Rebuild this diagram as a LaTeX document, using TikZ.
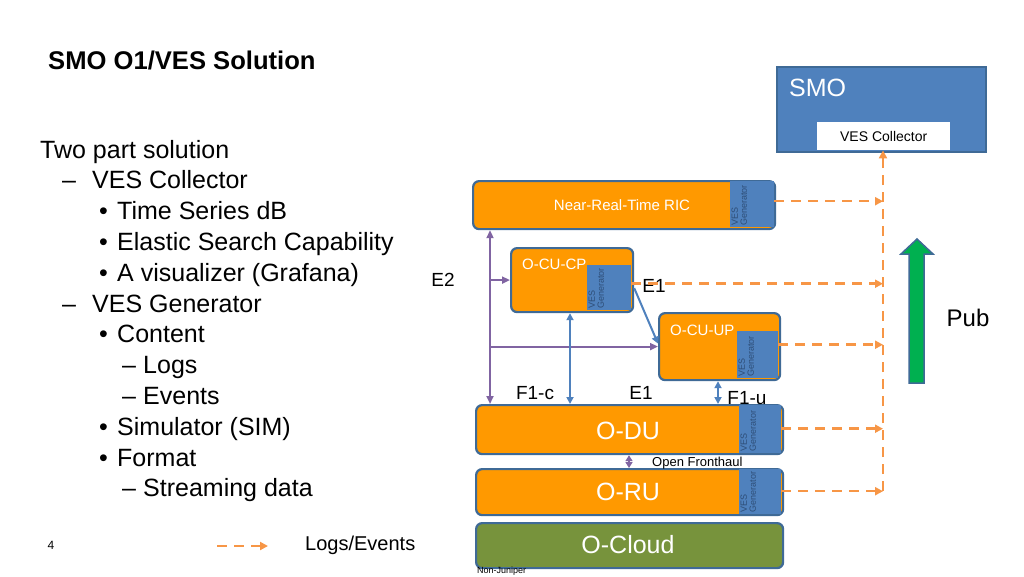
\documentclass[tikz,border=0pt]{standalone}
\usepackage{fontspec}
\setmainfont{Liberation Sans}
\usetikzlibrary{arrows.meta}
\definecolor{orng}{HTML}{FF9900}
\definecolor{bord}{HTML}{3F6A96}
\definecolor{vesb}{HTML}{4F81BD}
\definecolor{purp}{HTML}{8064A2}
\definecolor{dorng}{HTML}{F79646}
\definecolor{ocloud}{HTML}{77933C}
\definecolor{pubg}{HTML}{00B050}
\definecolor{gtext}{HTML}{2E4E78}
\newcommand{\fs}[1]{\fontsize{#1}{#1}\selectfont}
\begin{document}
\begin{tikzpicture}[x=1pt,y=-1pt,
  box/.style={draw=bord, line width=2.2pt, rounded corners=6pt, fill=orng, text=white, anchor=north west, inner sep=0pt},
  gen/.style={fill=vesb, draw=none, anchor=north west, inner sep=0pt},
  gentext/.style={rotate=90, anchor=north west, font=\fs{9}, text=gtext, align=left, inner sep=1.5pt},
  logarrow/.style={draw=dorng, line width=2.5pt, dash pattern=on 10pt off 7pt, -{Triangle[length=8pt,width=8pt]}},
  purpline/.style={draw=purp, line width=2pt},
  blueline/.style={draw=vesb, line width=2pt},
  lbl/.style={font=\fs{19}, inner sep=0pt},
  txt/.style={anchor=base west, inner sep=0pt, font=\fs{25}},
]
\useasboundingbox (0,0) rectangle (1024,576);

% title
\node[anchor=base west, inner sep=0pt, font=\bfseries\fs{25.6}] (title) at (48,69) {SMO O1/VES Solution};

% left text
\node[txt] (t0) at (40,158) {Two part solution};
\node[txt] (d1) at (62,188.8) {–};  \node[txt] (t1) at (92,188.8) {VES Collector};
\node[txt] (b2) at (99,219.6) {•};  \node[txt] (t2) at (117,219.6) {Time Series dB};
\node[txt] (b3) at (99,250.4) {•};  \node[txt] (t3) at (117,250.4) {Elastic Search Capability};
\node[txt] (b4) at (99,281.2) {•};  \node[txt] (t4) at (117,281.2) {A visualizer (Grafana)};
\node[txt] (d5) at (62,312) {–};    \node[txt] (t5) at (92,312) {VES Generator};
\node[txt] (b6) at (99,342.8) {•};  \node[txt] (t6) at (117,342.8) {Content};
\node[txt] (d7) at (122,373.6) {–}; \node[txt] (t7) at (143,373.6) {Logs};
\node[txt] (d8) at (122,404.4) {–}; \node[txt] (t8) at (143,404.4) {Events};
\node[txt] (b9) at (99,435.2) {•};  \node[txt] (t9) at (117,435.2) {Simulator (SIM)};
\node[txt] (b10) at (99,466) {•};   \node[txt] (t10) at (117,466) {Format};
\node[txt] (d11) at (122,496.8) {–};\node[txt] (t11) at (143,496.8) {Streaming data};

% page number and legend
\node[font=\fs{12}, inner sep=0pt] (pg) at (51,545) {4};
\coordinate (lg1) at (217,546);
\coordinate (lg2) at (268,546);
\draw[logarrow] (lg1) -- (lg2);
\node[anchor=west, inner sep=0pt, font=\fs{20}] (lgt) at (305,545) {Logs/Events};

% SMO
\node[draw=bord, line width=2pt, fill=vesb, anchor=north west, minimum width=209, minimum height=85, inner sep=0pt] (smo) at (776,66) {};
\node[anchor=west, text=white, font=\fs{25}, inner sep=0pt] (smot) at (789,88) {SMO};
\node[fill=white, anchor=north west, minimum width=133, minimum height=28, inner sep=0pt, font=\fs{14}] (col) at (817,122) {VES Collector};

% Near-RT RIC
\node[box, minimum width=302, minimum height=48] (ric) at (472,180) {};
\node[gen, minimum width=44, minimum height=46] (ricgen) at (730,181) {};
\node[gentext] (ricgt) at (ricgen.south west) {VES\\Generator};
\node[text=white, font=\fs{15}, inner sep=0pt] (rict) at (622,205) {Near-Real-Time RIC};

% O-CU-CP
\node[box, minimum width=122, minimum height=64] (cucp) at (510,247) {};
\node[gen, minimum width=44, minimum height=45] (cucpgen) at (587,265) {};
\node[gentext] (cucpgt) at (cucpgen.south west) {VES\\Generator};
\node[anchor=west, text=white, font=\fs{15}, inner sep=0pt] (cucpt) at (522,264) {O-CU-CP};

% O-CU-UP
\node[box, minimum width=121, minimum height=67] (cuup) at (658,312) {};
\node[gen, minimum width=41, minimum height=47] (cuupgen) at (737,331) {};
\node[gentext] (cuupgt) at (cuupgen.south west) {VES\\Generator};
\node[anchor=west, text=white, font=\fs{15}, inner sep=0pt] (cuupt) at (670,330) {O-CU-UP};

% O-DU
\node[box, minimum width=307, minimum height=49] (du) at (475,404) {};
\node[gen, minimum width=42, minimum height=48] (dugen) at (739,404.5) {};
\node[gentext] (dugt) at (dugen.south west) {VES\\Generator};
\node[text=white, font=\fs{25}, inner sep=0pt] (dut) at (628,431) {O-DU};

% O-RU
\node[box, minimum width=307, minimum height=46] (ru) at (475,468) {};
\node[gen, minimum width=42, minimum height=45] (rugen) at (739,468.5) {};
\node[gentext] (rugt) at (rugen.south west) {VES\\Generator};
\node[text=white, font=\fs{25}, inner sep=0pt] (rut) at (628,492) {O-RU};

% O-Cloud
\node[box, fill=ocloud, minimum width=307, minimum height=45] (cloud) at (475,522) {};
\node[text=white, font=\fs{25}, inner sep=0pt] (cloudt) at (628,545) {O-Cloud};
\node[anchor=west, font=\fs{9}, inner sep=0pt] (nj) at (477,571) {Non-Juniper};

% purple E2 interface
\coordinate (px) at (490,0);
\draw[purpline, {Triangle[length=8pt,width=7pt]}-{Triangle[length=8pt,width=7pt]}] (ric.south -| px) -- (du.north -| px);
\draw[purpline, -{Triangle[length=8pt,width=7pt]}] (px |- cucp.west) -- (cucp.west);
\draw[purpline, -{Triangle[length=8pt,width=7pt]}] (px |- cuup.west) -- (cuup.west);
\node[lbl] (e2) at (443,280) {E2};

% blue F1 links
\coordinate (bx) at (570,0);
\coordinate (ux) at (718,0);
\draw[blueline, {Triangle[length=7pt,width=7pt]}-{Triangle[length=7pt,width=7pt]}] (cucp.south -| bx) -- (du.north -| bx);
\draw[blueline, {Triangle[length=7pt,width=7pt]}-{Triangle[length=7pt,width=7pt]}] (cuup.south -| ux) -- (du.north -| ux);
\draw[blueline, -{Triangle[length=7pt,width=7pt]}] ([yshift=-8pt]cucp.east) -- ([yshift=3pt]cuup.west);
\node[lbl] (e1a) at (654,286) {E1};
\node[lbl] (f1c) at (535,393) {F1-c};
\node[lbl] (e1b) at (641,393) {E1};
\node[lbl] (f1u) at (747,398) {F1-u};

% open fronthaul
\coordinate (fx) at (629,0);
\draw[draw=purp, line width=1.5pt, {Triangle[length=6pt,width=7pt]}-{Triangle[length=6pt,width=7pt]}] (du.south -| fx) -- (ru.north -| fx);
\node[anchor=west, font=\fs{13}, inner sep=0pt] (oft) at (652,463) {Open Fronthaul};

% logs/events to the collector
\coordinate (cx) at (883,0);
\draw[logarrow] ([yshift=3pt]ricgen.east) -- ([yshift=3pt]ricgen.east -| cx);
\draw[logarrow] ([yshift=4pt]cucpgen.east) -- ([yshift=4pt]cucpgen.east -| cx);
\draw[logarrow] ([yshift=10pt]cuupgen.east) -- ([yshift=10pt]cuupgen.east -| cx);
\draw[logarrow] (dugen.east) -- (dugen.east -| cx);
\draw[logarrow] (rugen.east) -- (rugen.east -| cx);
\draw[logarrow] (rugen.east -| cx) -- (col.south -| cx);

% Pub arrow
\draw[fill=pubg, draw=bord, line width=1.5pt, line join=miter] (909,383) -- (909,254) -- (901,254) -- (917,239) -- (933,254) -- (924,254) -- (924,383) -- cycle;
\node[font=\fs{24}, inner sep=0pt] (pub) at (968,318) {Pub};
\end{tikzpicture}
\end{document}
